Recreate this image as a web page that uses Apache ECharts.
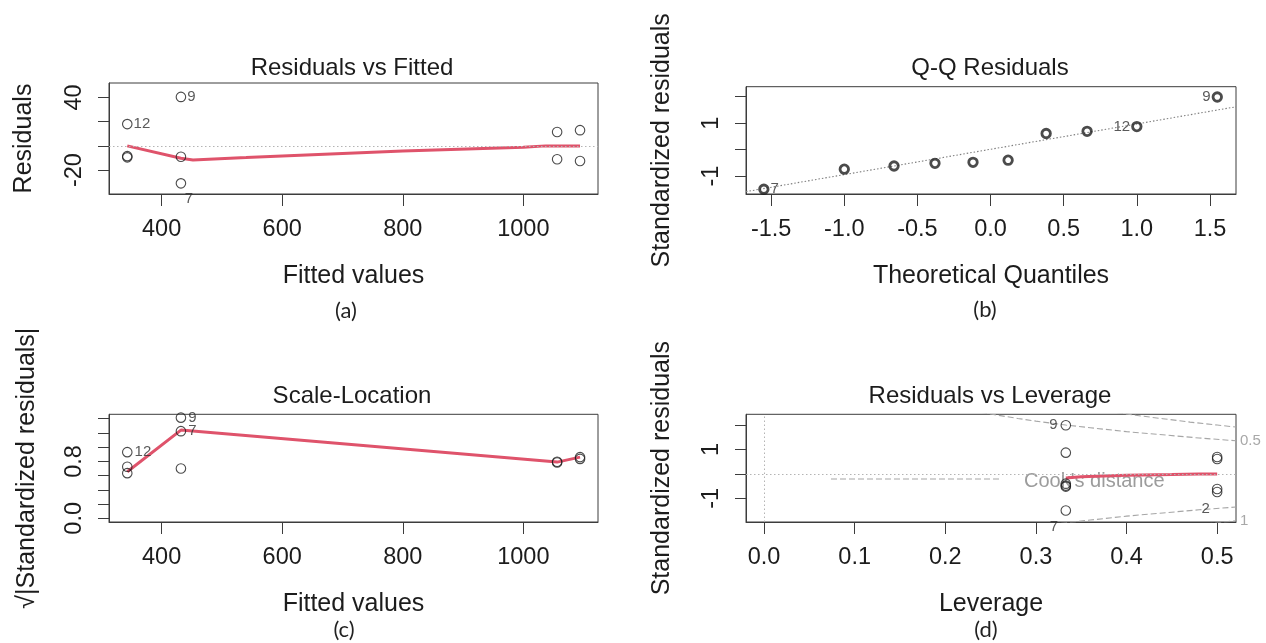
<!DOCTYPE html>
<html>
<head>
<meta charset="utf-8">
<title>Regression diagnostics</title>
<script src="https://cdn.jsdelivr.net/npm/echarts@6/dist/echarts.min.js"></script>
<style>
  html, body { margin: 0; padding: 0; background: #ffffff; }
  #chart { width: 1266px; height: 643px; }
</style>
</head>
<body>
<div id="chart"></div>
<script>
// ---- Observations of the fitted linear model --------------------------------
const obsIds              = ['12', '10', '11', '9', '8', '7', '1', '3', '4', '2'];
const fittedValues        = [343, 343, 343, 432, 432, 432, 1056, 1056, 1094, 1094];
const residuals           = [18, -8.5, -9.5, 40.5, -9, -31, 11.5, -11, 13, -12.5];
const stdResiduals        = [0.87, -0.40, -0.52, 1.99, -0.48, -1.50, 0.61, -0.62, 0.69, -0.74];
const sqrtAbsStdResiduals = [0.93, 0.635, 0.725, 1.415, 0.70, 1.225, 0.785, 0.795, 0.835, 0.86];
const leverage            = [0.333, 0.333, 0.333, 0.333, 0.333, 0.333, 0.5, 0.5, 0.5, 0.5];

// normal quantiles for the ordered standardized residuals
const theoreticalQuantiles = [-1.55, -1.00, -0.66, -0.38, -0.12, 0.12, 0.38, 0.66, 1.00, 1.55];

// observations that get an id label
const flaggedByResidual = ['9', '7', '12'];
const flaggedByCook     = ['9', '7', '2'];

// smoothed trend lines
const smoothResidFit = [[343, 0], [432, -10.3], [452, -11.6], [540, -9.7], [600, -8.3],
                        [800, -4.2], [1000, -1.1], [1037, 0], [1094, 0]];
const smoothScaleLoc = [[343, 0.655], [432, 1.24], [1056, 0.79], [1094, 0.86]];
const smoothResidLev = [[0.333, -0.17], [0.35, -0.12], [0.40, -0.06], [0.45, -0.03], [0.48, 0], [0.5, 0]];

// reference line through the Q-Q quartiles
const qqLine = [[-1.672, -1.59], [1.678, 1.62]];

// Cook's distance contours (levels 0.5 and 1)
const cookLevelLabels = ['0.5', '1'];
const cookHalfUpper = [[0.22, 2.66], [0.25, 2.45], [0.28, 2.27], [0.30, 2.16], [0.333, 2.00],
                       [0.36, 1.89], [0.40, 1.73], [0.44, 1.60], [0.48, 1.47], [0.5208, 1.357]];
const cookHalfLower = [[0.22, -2.66], [0.25, -2.45], [0.28, -2.27], [0.30, -2.16], [0.333, -2.00],
                       [0.36, -1.89], [0.40, -1.73], [0.44, -1.60], [0.48, -1.47], [0.5208, -1.357]];
const cookOneUpper  = [[0.36, 2.67], [0.38, 2.56], [0.41, 2.40], [0.44, 2.26], [0.47, 2.12],
                       [0.50, 2.00], [0.5208, 1.918]];
const cookOneLower  = [[0.36, -2.67], [0.38, -2.56], [0.41, -2.40], [0.44, -2.26], [0.47, -2.12],
                       [0.50, -2.00], [0.5208, -1.918]];

// ---- Tick values --------------------------------------------------------------
const fittedTicks      = [400, 600, 800, 1000];
const residTicks       = [-20, 0, 20, 40];
const residTickLabels  = [-20, 40];
const qqXTicks         = [-1.5, -1.0, -0.5, 0, 0.5, 1.0, 1.5];
const stdYTicks        = [-1, 0, 1, 2];
const stdYTickLabels   = [-1, 1];
const slTicks          = [0, 0.2, 0.4, 0.6, 0.8, 1.0, 1.2, 1.4];
const slTickLabels     = [0, 0.8];
const levTicks         = [0, 0.1, 0.2, 0.3, 0.4, 0.5];

// ---- Styling ---------------------------------------------------------------------
const FONT = '"Liberation Sans", Arial, sans-serif';
const CAPTION_FONT = 'Lato, "Open Sans", sans-serif';
const TEXT = '#1c1c1c';
const BOX = '#3c3c3c';
const RED = '#DF536B';
const GREY_LINE = '#b4b4b4';

const fixed1 = v => v.toFixed(1);
const plain = v => String(v);

function xAxisFor(gridIndex, min, max, ticks, labels, fmt, name) {
  return {
    type: 'value', gridIndex, min, max, name,
    nameLocation: 'middle', nameGap: 70,
    nameTextStyle: { fontSize: 25, color: TEXT, fontFamily: FONT },
    axisLine: { show: true, onZero: false, lineStyle: { color: BOX, width: 1 } },
    axisTick: { show: true, length: 12, customValues: ticks, lineStyle: { color: BOX, width: 1 } },
    axisLabel: { show: true, customValues: labels, formatter: fmt, margin: 24,
                 fontSize: 23.5, color: TEXT, fontFamily: FONT },
    splitLine: { show: false }
  };
}

function yAxisFor(gridIndex, min, max, ticks, labels, fmt, name, nameGap) {
  return {
    type: 'value', gridIndex, min, max, name,
    nameLocation: 'middle', nameGap, nameRotate: 90,
    nameTextStyle: { fontSize: 25, color: TEXT, fontFamily: FONT },
    axisLine: { show: true, onZero: false, lineStyle: { color: BOX, width: 1 } },
    axisTick: { show: true, length: 11, customValues: ticks, lineStyle: { color: BOX, width: 1 } },
    axisLabel: { show: true, customValues: labels, formatter: fmt, rotate: 90, margin: 22,
                 fontSize: 23.5, color: TEXT, fontFamily: FONT },
    splitLine: { show: false }
  };
}

// id label placement per panel
const placement = {
  a: { '12': { position: 'right', distance: 1 },
       '9':  { position: 'right', distance: 1 },
       '7':  { position: 'bottom', distance: 3, offset: [8, 0] } },
  b: { '7':  { position: 'right', distance: 1 },
       '12': { position: 'left', distance: 1 },
       '9':  { position: 'left', distance: 1 } },
  c: { '12': { position: 'right', distance: 2 },
       '9':  { position: 'right', distance: 2 },
       '7':  { position: 'right', distance: 2 } },
  d: { '9':  { position: 'left', distance: 3 },
       '7':  { position: 'bottom', distance: 4, offset: [-12, 0] },
       '2':  { position: 'bottom', distance: 4, offset: [-11.5, 0] } }
};

function pointItems(xs, ys, ids, flagged, place) {
  return xs.map((x, i) => {
    const item = { value: [x, ys[i]] };
    const id = ids[i];
    if (flagged.includes(id)) {
      item.label = Object.assign({ show: true, formatter: id }, place[id]);
    }
    return item;
  });
}

// Q-Q panel: ordered standardized residuals against normal quantiles
const qqOrder = stdResiduals.map((v, i) => i).sort((p, q) => stdResiduals[p] - stdResiduals[q]);
const qqX = qqOrder.map((_, k) => theoreticalQuantiles[k]);
const qqY = qqOrder.map(i => stdResiduals[i]);
const qqIds = qqOrder.map(i => obsIds[i]);

function scatter(axisIdx, data, width, size) {
  return {
    type: 'scatter', xAxisIndex: axisIdx, yAxisIndex: axisIdx, data,
    symbol: 'circle', symbolSize: size || 9.5, silent: true, z: 5,
    itemStyle: { color: 'rgba(0,0,0,0)', borderColor: '#1e1e1e', borderWidth: width || 1.1 },
    label: { fontSize: 15, color: '#303030', fontFamily: FONT }
  };
}

function trend(axisIdx, data) {
  return {
    type: 'line', xAxisIndex: axisIdx, yAxisIndex: axisIdx, data,
    symbol: 'none', silent: true, z: 3,
    lineStyle: { color: RED, width: 3 }
  };
}

function cookCurve(data, endText) {
  const s = {
    type: 'line', xAxisIndex: 3, yAxisIndex: 3, data, symbol: 'none', silent: true, z: 2,
    lineStyle: { color: '#a6a6a6', width: 1.1, type: [6, 3] }
  };
  if (endText) {
    s.endLabel = { show: true, formatter: endText, color: '#a8a8a8', fontSize: 15,
                   fontFamily: FONT, distance: 4 };
  }
  return s;
}

const dotted = { color: GREY_LINE, width: 1, type: [1.5, 2.5] };

const titleText = (text, x, y) => ({
  type: 'text', x, y, silent: true,
  style: { text, fontSize: 24, fontFamily: FONT, fill: TEXT, align: 'center', verticalAlign: 'middle' }
});
const captionText = (text, x, y) => ({
  type: 'text', x, y, silent: true,
  style: { text, fontSize: 22, fontFamily: CAPTION_FONT, fill: '#222', align: 'center', verticalAlign: 'middle' }
});

const option = {
  animation: false,
  backgroundColor: '#ffffff',
  grid: [
    { left: 109, top: 83,    width: 489, height: 111,   show: true, borderColor: BOX, borderWidth: 1 },
    { left: 746, top: 86.7,  width: 490, height: 107.3, show: true, borderColor: BOX, borderWidth: 1 },
    { left: 109, top: 414.3, width: 489, height: 107.7, show: true, borderColor: BOX, borderWidth: 1 },
    { left: 746, top: 414.3, width: 490, height: 107.7, show: true, borderColor: BOX, borderWidth: 1 }
  ],
  xAxis: [
    xAxisFor(0, 312.7, 1123.8, fittedTicks, fittedTicks, plain, 'Fitted values'),
    xAxisFor(1, -1.672, 1.678, qqXTicks, qqXTicks, fixed1, 'Theoretical Quantiles'),
    xAxisFor(2, 312.7, 1123.8, fittedTicks, fittedTicks, plain, 'Fitted values'),
    xAxisFor(3, -0.0199, 0.5208, levTicks, levTicks, fixed1, 'Leverage')
  ],
  yAxis: [
    yAxisFor(0, -39.8, 52, residTicks, residTickLabels, plain, 'Residuals', 72),
    yAxisFor(1, -1.68, 2.38, stdYTicks, stdYTickLabels, plain, 'Standardized residuals', 71),
    yAxisFor(2, -0.052, 1.462, slTicks, slTickLabels, fixed1, '\u221A|Standardized residuals|', 69),
    yAxisFor(3, -1.97, 2.44, stdYTicks, stdYTickLabels, plain, 'Standardized residuals', 71)
  ],
  series: [
    // Residuals vs Fitted
    Object.assign(trend(0, smoothResidFit), {
      markLine: { silent: true, symbol: ['none', 'none'], label: { show: false },
                  lineStyle: dotted, data: [{ yAxis: 0 }] }
    }),
    scatter(0, pointItems(fittedValues, residuals, obsIds, flaggedByResidual, placement.a)),

    // Q-Q Residuals
    { type: 'line', xAxisIndex: 1, yAxisIndex: 1, data: qqLine, symbol: 'none', silent: true, z: 2,
      lineStyle: { color: '#7e7e7e', width: 1.1, type: [1.5, 2] } },
    scatter(1, pointItems(qqX, qqY, qqIds, flaggedByResidual, placement.b), 2.8, 8.5),

    // Scale-Location
    trend(2, smoothScaleLoc),
    scatter(2, pointItems(fittedValues, sqrtAbsStdResiduals, obsIds, flaggedByResidual, placement.c)),

    // Residuals vs Leverage
    cookCurve(cookHalfUpper, cookLevelLabels[0]),
    cookCurve(cookHalfLower, null),
    cookCurve(cookOneUpper, null),
    cookCurve(cookOneLower, cookLevelLabels[1]),
    Object.assign(trend(3, smoothResidLev), {
      markLine: { silent: true, symbol: ['none', 'none'], label: { show: false },
                  lineStyle: dotted, data: [{ yAxis: 0 }, { xAxis: 0 }] }
    }),
    scatter(3, pointItems(leverage, stdResiduals, obsIds, flaggedByCook, placement.d))
  ],
  graphic: [
    titleText('Residuals vs Fitted', 352, 68),
    titleText('Q-Q Residuals', 990, 68),
    titleText('Scale-Location', 352, 396),
    titleText('Residuals vs Leverage', 990, 396),
    captionText('(a)', 346, 311),
    captionText('(b)', 985, 310),
    captionText('(c)', 344, 630),
    captionText('(d)', 986, 630),
    // Cook's distance key
    { type: 'line', silent: true, z: 1,
      shape: { x1: 831, y1: 479, x2: 1002, y2: 479 },
      style: { stroke: '#a6a6a6', lineWidth: 1.1, lineDash: [6, 3] } },
    { type: 'text', x: 1024, y: 481, silent: true, z: 1,
      style: { text: "Cook's distance", fontSize: 20, fontFamily: FONT, fill: '#9c9c9c',
               align: 'left', verticalAlign: 'middle' } }
  ]
};

const chart = echarts.init(document.getElementById('chart'), null, { renderer: 'canvas' });
chart.setOption(option);
</script>
</body>
</html>
